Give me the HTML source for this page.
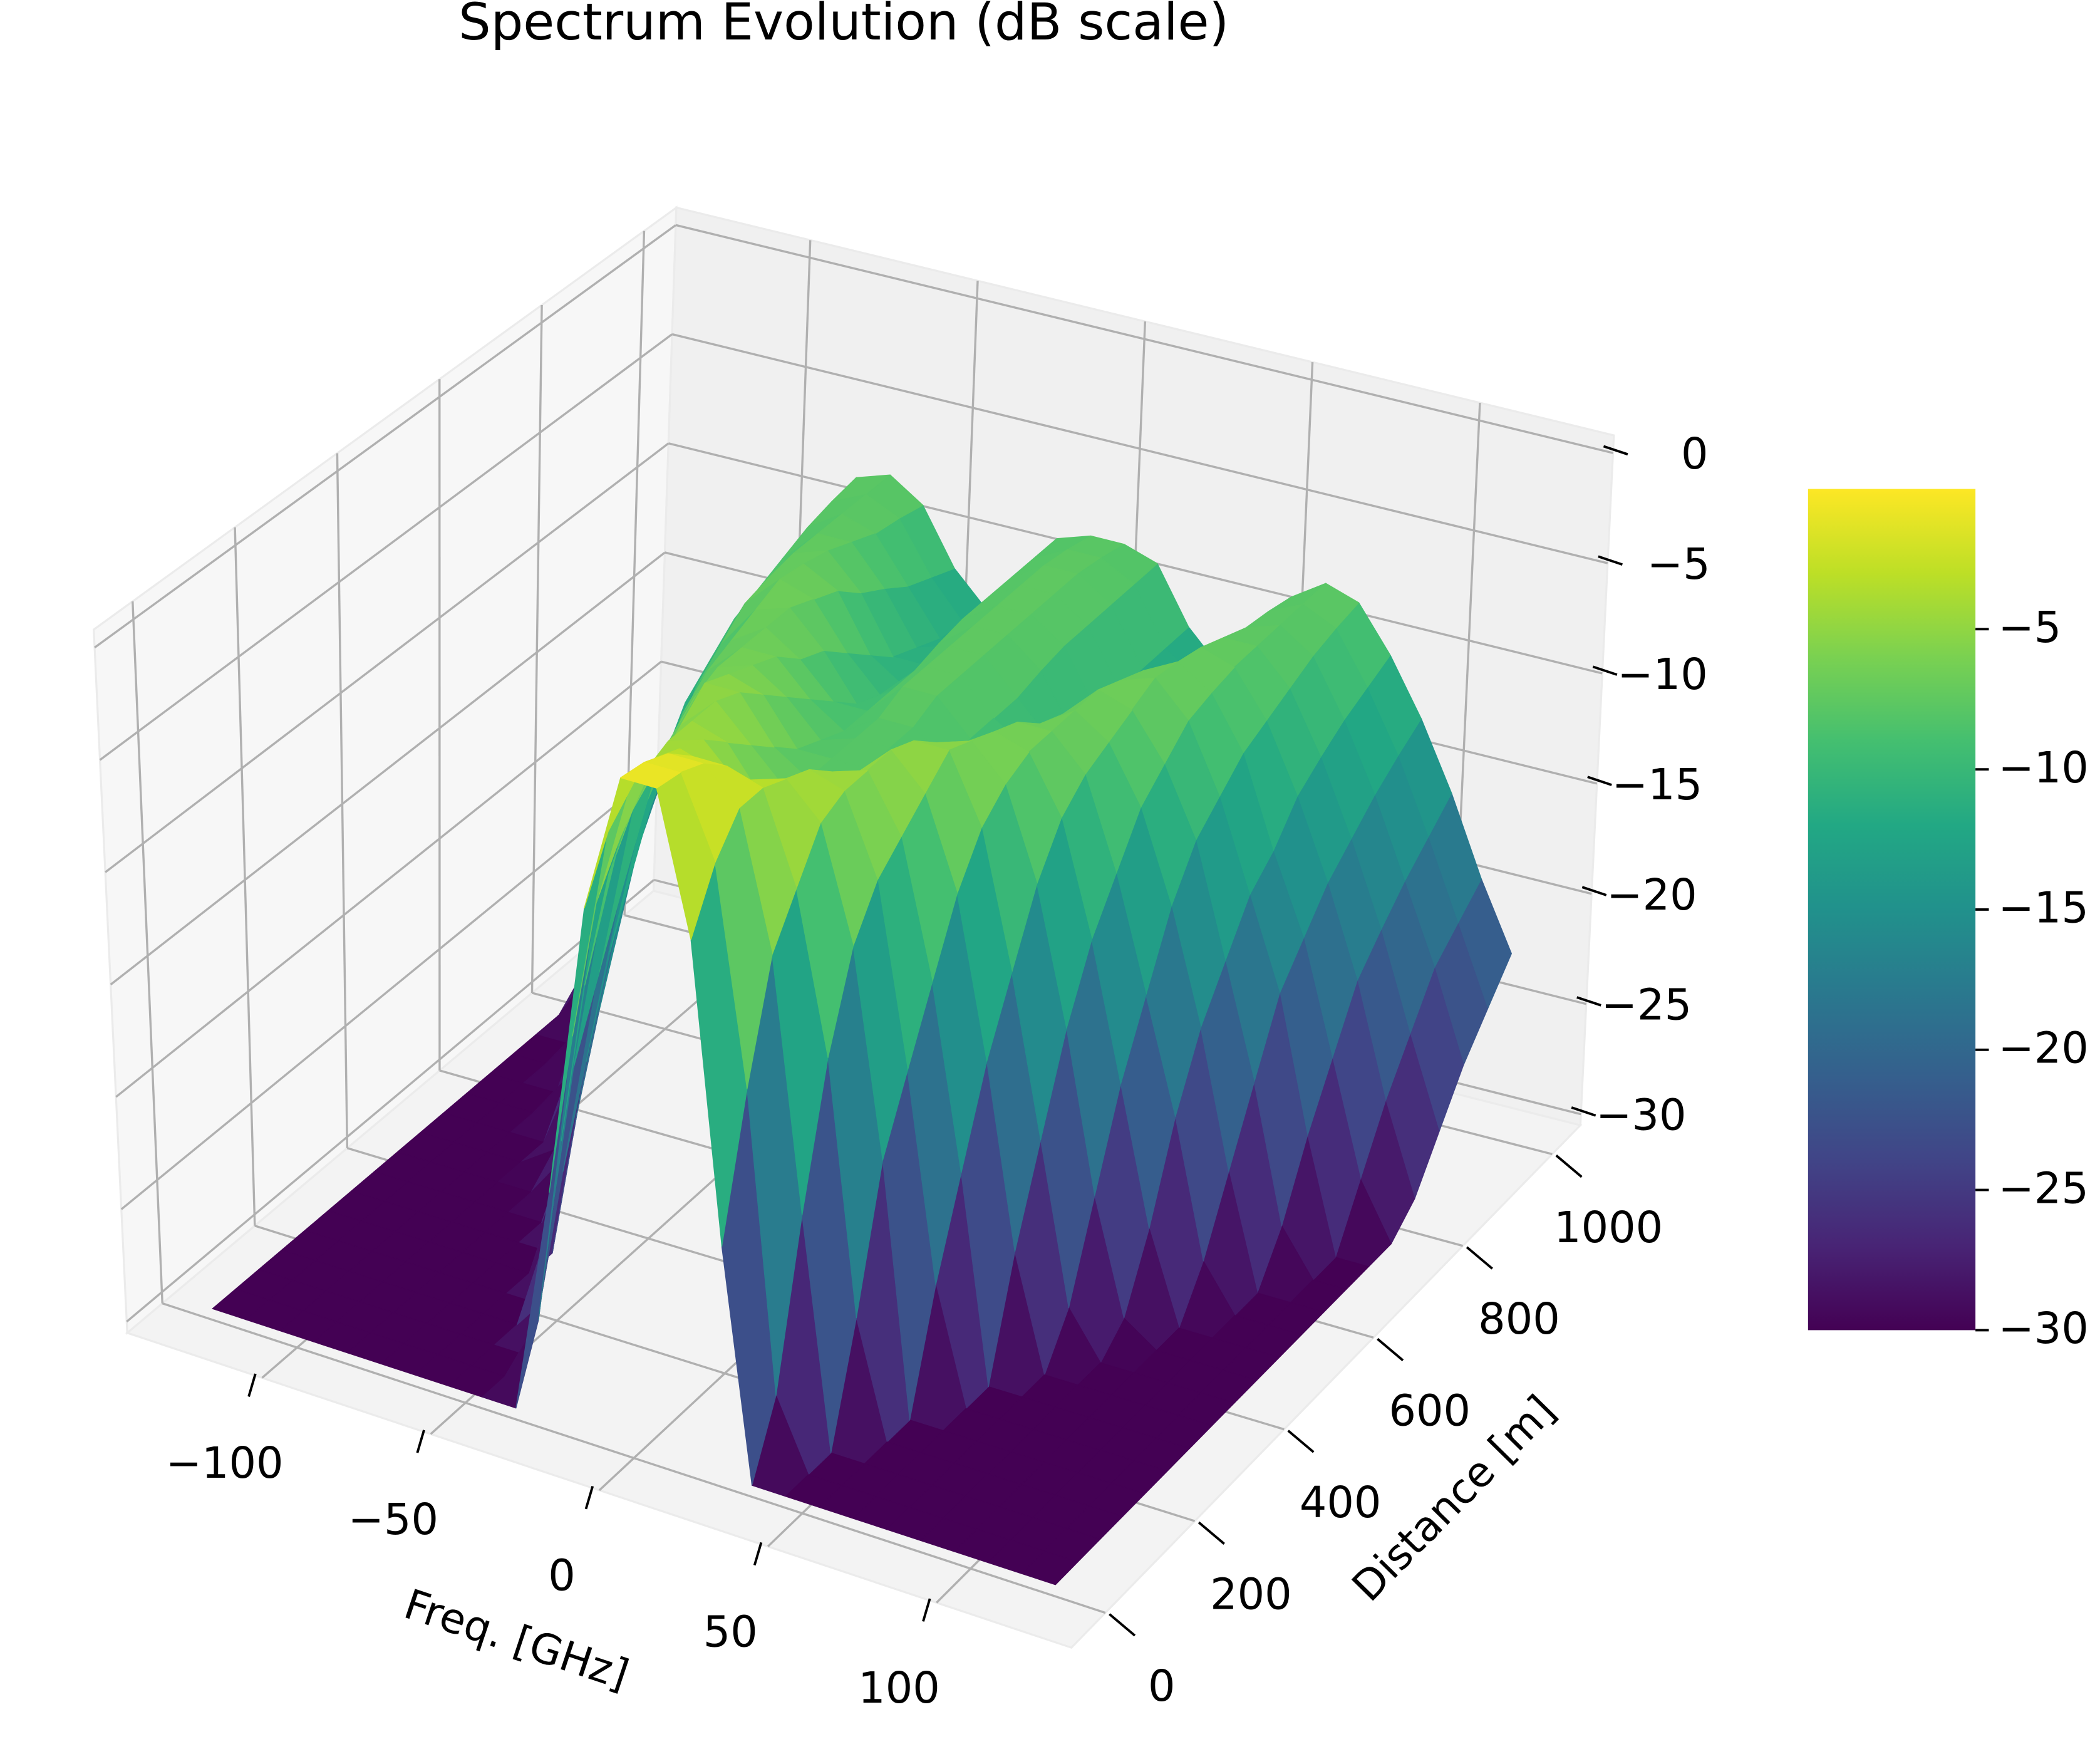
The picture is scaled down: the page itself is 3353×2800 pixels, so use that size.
<!DOCTYPE html>
<html><head><meta charset="utf-8"><style>
html,body{margin:0;padding:0;background:#fff;}
svg{display:block;}
text{font-family:"DejaVu Sans","Liberation Sans",sans-serif;fill:#000;}
</style></head><body>
<svg id="chart" width="3353" height="2800" viewBox="0 0 1568 1309.4" xmlns="http://www.w3.org/2000/svg">
<defs>
<linearGradient id="viridis" x1="0" y1="1" x2="0" y2="0">
<stop offset="0" stop-color="#440154"/><stop offset="0.1" stop-color="#482475"/><stop offset="0.2" stop-color="#414487"/><stop offset="0.3" stop-color="#355f8d"/><stop offset="0.4" stop-color="#2a788e"/><stop offset="0.5" stop-color="#21918c"/><stop offset="0.6" stop-color="#22a884"/><stop offset="0.7" stop-color="#44bf70"/><stop offset="0.8" stop-color="#7ad151"/><stop offset="0.9" stop-color="#bddf26"/><stop offset="1" stop-color="#fde725"/>
</linearGradient>
</defs>
<text x="630" y="19" font-size="38" text-anchor="middle" dominant-baseline="middle">Spectrum Evolution (dB scale)</text>
<g id="panes"></g>
<g id="grid"></g>
<g id="surface"></g>
<g id="ticks"></g>
<text x="385" y="1226" font-size="31" text-anchor="middle" dominant-baseline="middle" transform="rotate(18.4 385 1226)">Freq. [GHz]</text>
<text x="1087" y="1120" font-size="31" text-anchor="middle" dominant-baseline="middle" transform="rotate(-45.5 1087 1120)">Distance [m]</text>
<g id="colorbar">
<rect x="1350" y="365" width="125" height="628" fill="url(#viridis)"/>
</g>
</svg>
<script>
// ---- data ----
const freqs = [-125,-115,-105,-95,-85,-75,-65,-55,-45,-35,-25,-15,-5,5,15,25,35,45,55,65,75,85,95,105,115,125];
const dists = [0,50,100,150,200,250,300,350,400,450,500,550,600,650,700,750,800,850,900,950,1000];
const zRow0 = [-30,-30,-30,-30,-30,-30,-30,-30,-30,-30,-20,-7,-0.8,-0.8,-7,-20,-30,-30,-30,-30,-30,-30,-30,-30,-30,-30];
const zRow0h = [-30,-30,-30,-30,-30,-30,-30,-30,-30,-27,-14,-4.5,-1,-1,-4.5,-14,-27,-30,-30,-30,-30,-30,-30,-30,-30,-30];
const zRow1 = [-30,-30,-30,-30,-30,-30,-30,-30,-30,-20,-9,-3,-1.5,-1.5,-3,-9,-20,-30,-30,-30,-30,-30,-30,-30,-30,-30];
const zRow1h = [-30,-30,-30,-30,-30,-30,-30,-30,-25,-14,-7,-3,-2.5,-2.5,-3,-7,-14,-25,-30,-30,-30,-30,-30,-30,-30,-30];
const zRow2 = [-30,-30,-30,-30,-30,-30,-30,-30,-19,-10,-5,-3.5,-4,-4,-3.5,-5,-10,-19,-30,-30,-30,-30,-30,-30,-30,-30];
const zRow2h = [-30,-30,-30,-30,-30,-30,-30,-25,-16,-8,-4.5,-4,-5.5,-5.5,-4,-4.5,-8,-16,-25,-30,-30,-30,-30,-30,-30,-30];
const zRow3 = [-30,-30,-30,-30,-30,-30,-30,-21,-13,-7,-4.5,-5,-7,-7,-5,-4.5,-7,-13,-21,-30,-30,-30,-30,-30,-30,-30];
const zRow3h = [-30,-30,-30,-30,-30,-30,-25,-17,-10,-6,-4.5,-6,-7.5,-7.5,-6,-4.5,-6,-10,-17,-25,-30,-30,-30,-30,-30,-30];
const zRow4 = [-30,-30,-30,-30,-30,-28,-21,-14,-8,-5,-5,-7,-8,-8,-7,-5,-5,-8,-14,-21,-28,-30,-30,-30,-30,-30];
const zRow4h = [-30,-30,-30,-30,-29,-24,-17,-11,-7,-5.5,-6,-8,-8,-8,-8,-6,-5.5,-7,-11,-17,-24,-29,-30,-30,-30,-30];
const zRow5 = [-30,-30,-30,-30,-26,-20,-14,-9,-6.5,-6,-7,-8.5,-8,-8,-8.5,-7,-6,-6.5,-9,-14,-20,-26,-30,-30,-30,-30];
const zRow5h = [-30,-30,-30,-28,-22,-17,-12,-8,-6.5,-6.5,-8,-9,-8,-8,-9,-8,-6.5,-6.5,-8,-12,-17,-22,-28,-30,-30,-30];
const zRow6 = [-30,-30,-30,-25,-19,-14,-10,-7.5,-6.5,-7.5,-9,-9,-7.5,-7.5,-9,-9,-7.5,-6.5,-7.5,-10,-14,-19,-25,-30,-30,-30];
const zRow6h = [-30,-30,-28,-22,-17,-12,-9,-7,-6.5,-8,-10,-9,-7.5,-7.5,-9,-10,-8,-6.5,-7,-9,-12,-17,-22,-28,-30,-30];
const zRow7 = [-30,-30,-25,-19,-15,-11,-8,-6.5,-7,-9,-10.5,-9,-7.5,-7.5,-9,-10.5,-9,-7,-6.5,-8,-11,-15,-19,-25,-30,-30];
const zRow7h = [-30,-27.5,-22.5,-17.5,-14,-10,-7.7,-6.7,-7.5,-10,-11,-8.7,-7.5,-7.5,-8.7,-11,-10,-7.5,-6.7,-7.7,-10,-14,-17.5,-22.5,-27.5,-30];
const zRow8 = [-29,-25,-20,-16,-12.5,-9.5,-7.5,-7,-8.5,-11,-11,-8.5,-7.5,-7.5,-8.5,-11,-11,-8.5,-7,-7.5,-9.5,-12.5,-16,-20,-25,-29];
const zRow8h = [-27,-23,-18.7,-15,-11.7,-9,-7.5,-7.5,-9.2,-11.5,-11,-8.5,-7.5,-7.5,-8.5,-11,-11.5,-9.2,-7.5,-7.5,-9,-11.7,-15,-18.7,-23,-27];
const zRow9 = [-25,-21,-17.5,-14,-11,-8.5,-7.5,-8,-10,-12,-11,-8.5,-7.5,-7.5,-8.5,-11,-12,-10,-8,-7.5,-8.5,-11,-14,-17.5,-21,-25];
const zRow9h = [-23.5,-20,-16.5,-13.2,-10.5,-8.2,-7.5,-8.2,-10.5,-12.2,-11,-8.5,-7.7,-7.7,-8.5,-11,-12.2,-10.5,-8.2,-7.5,-8.2,-10.5,-13.2,-16.5,-20,-23.5];
const zRow10 = [-22,-19,-15.5,-12.5,-10,-8,-7.5,-8.5,-11,-12.5,-11,-8.5,-8,-8,-8.5,-11,-12.5,-11,-8.5,-7.5,-8,-10,-12.5,-15.5,-19,-22];
const zRows = [zRow0,zRow0h,zRow1,zRow1h,zRow2,zRow2h,zRow3,zRow3h,zRow4,zRow4h,zRow5,zRow5h,zRow6,zRow6h,zRow7,zRow7h,zRow8,zRow8h,zRow9,zRow9h,zRow10];
const freqTicks = [-100,-50,0,50,100];
const distTicks = [0,200,400,600,800,1000];
const zTicks = [0,-5,-10,-15,-20,-25,-30];
const cbarTicks = [-5,-10,-15,-20,-25,-30];

// ---- axis functions ----
const F0=-140,F1=140,D0=-76,D1=1063,Z0=-30.5,Z1=0.8,VMIN=-30,VMAX=0;
const U=f=>(f-F0)/(F1-F0), V=d=>(d-D0)/(D1-D0), W=z=>(z-Z0)/(Z1-Z0);
const B00=[95,995],B10=[800,1230],B11=[1180,840],B01=[488,665];
const T00=[70,470],T10=[830,690],T11=[1205,325],T01=[505,155];
function bil(a,b,c,d,u,v){
  return [0,1].map(i=>(a[i]*(1-u)+b[i]*u)*(1-v)+(d[i]*(1-u)+c[i]*u)*v);
}
function P(u,v,w){
  const b=bil(B00,B10,B11,B01,u,v), t=bil(T00,T10,T11,T01,u,v);
  return [b[0]+(t[0]-b[0])*w, b[1]+(t[1]-b[1])*w];
}
const pj=(f,d,z)=>P(U(f),V(d),W(z));
const stops=[[68,1,84],[72,36,117],[65,68,135],[53,95,141],[42,120,142],[33,145,140],[34,168,132],[68,191,112],[122,209,81],[189,223,38],[253,231,37]];
function viridis(z){
  let t=(z-VMIN)/(VMAX-VMIN); t=Math.max(0,Math.min(1,t))*10;
  const i=Math.min(9,Math.floor(t)), r=t-i, a=stops[i], b=stops[i+1];
  return 'rgb('+a.map((x,k)=>Math.round(x+(b[k]-x)*r)).join(',')+')';
}
const NS='http://www.w3.org/2000/svg';
const pts=a=>a.map(p=>p[0].toFixed(2)+','+p[1].toFixed(2)).join(' ');

// panes
const panes=document.getElementById('panes');
[[ 'floor-pane',[P(0,0,0),P(1,0,0),P(1,1,0),P(0,1,0)],'#f3f3f3'],
 [ 'left-pane',[P(0,0,0),P(0,1,0),P(0,1,1),P(0,0,1)],'#f7f7f7'],
 [ 'back-pane',[P(0,1,0),P(1,1,0),P(1,1,1),P(0,1,1)],'#f0f0f0']].forEach(([n,poly,c])=>{
  const e=document.createElementNS(NS,'polygon');
  
  
  e.setAttribute('points',pts(poly));e.setAttribute('fill',c);e.setAttribute('stroke','#ebebeb');e.setAttribute('stroke-width','1.5');
  panes.appendChild(e);
});

// grid
const grid=document.getElementById('grid');
function gline(a,b,name){
  const e=document.createElementNS(NS,'line');
  
  
  e.setAttribute('x1',a[0]);e.setAttribute('y1',a[1]);e.setAttribute('x2',b[0]);e.setAttribute('y2',b[1]);
  e.setAttribute('stroke','#b0b0b0');e.setAttribute('stroke-width','1.6');
  grid.appendChild(e);
}
zTicks.forEach(z=>{gline(P(0,0,W(z)),P(0,1,W(z)),'z-gridline');gline(P(0,1,W(z)),P(1,1,W(z)),'z-gridline');});
freqTicks.forEach(f=>{gline(P(U(f),1,0),P(U(f),1,1),'freq-gridline');gline(P(U(f),0,0),P(U(f),1,0),'freq-gridline');});
distTicks.forEach(d=>{gline(P(0,V(d),0),P(0,V(d),1),'dist-gridline');gline(P(0,V(d),0),P(1,V(d),0),'dist-gridline');});

// surface
const surf=document.getElementById('surface');
const quads=[];
for(let i=0;i<dists.length-1;i++){
  for(let j=0;j<freqs.length-1;j++){
    const c=[[j,i],[j+1,i],[j+1,i+1],[j,i+1]];
    const zs=c.map(([a,b])=>zRows[b][a]);
    const zm=zs.reduce((s,x)=>s+x,0)/4;
    const um=(U(freqs[j])+U(freqs[j+1]))/2, vm=(V(dists[i])+V(dists[i+1]))/2;
    const depth=0.433*um-0.75*vm+0.375*W(zm);
    quads.push({poly:c.map(([a,b],k)=>pj(freqs[a],dists[b],zs[k])),zm,depth});
  }
}
quads.sort((a,b)=>a.depth-b.depth);
quads.forEach(q=>{
  const e=document.createElementNS(NS,'polygon');
  
  
  const col=viridis(q.zm);
  e.setAttribute('points',pts(q.poly));e.setAttribute('fill',col);e.setAttribute('stroke',col);e.setAttribute('stroke-width','0.6');e.setAttribute('stroke-linejoin','round');
  surf.appendChild(e);
});

// ticks
const tk=document.getElementById('ticks');
function tline(x1,y1,x2,y2,name){
  const e=document.createElementNS(NS,'line');
  
  
  e.setAttribute('x1',x1);e.setAttribute('y1',y1);e.setAttribute('x2',x2);e.setAttribute('y2',y2);
  e.setAttribute('stroke','#000');e.setAttribute('stroke-width','1.8');
  tk.appendChild(e);
}
function ttext(x,y,s,name,anchor){
  const e=document.createElementNS(NS,'text');
  
  
  e.setAttribute('x',x);e.setAttribute('y',y);e.setAttribute('font-size','32');
  e.setAttribute('text-anchor',anchor||'middle');e.setAttribute('dominant-baseline','middle');
  e.textContent=s;tk.appendChild(e);
}
const lab=v=>(v<0?'\u2212':'')+Math.abs(v);
freqTicks.forEach(f=>{const p=P(U(f),0,0);tline(p[0]-5,p[1]-3,p[0]-10,p[1]+14,'freq-tick');ttext(p[0]-28,p[1]+66,lab(f),'freq-tick-label');});
distTicks.forEach(d=>{const p=P(1,V(d),0);tline(p[0]+3,p[1]+1,p[0]+22,p[1]+17,'dist-tick');ttext(p[0]+42,p[1]+57,lab(d),'dist-tick-label');});
zTicks.forEach(z=>{const p=P(1,1,W(z));const s=lab(z);tline(p[0]-7,p[1]-5,p[0]+11,p[1]+1,'z-tick');ttext(p[0]+45+8*(3-s.length),p[1]+3,s,'z-tick-label');});
const cb=document.getElementById('colorbar');
cbarTicks.forEach(v=>{
  const y=365+(VMAX-v)/(VMAX-VMIN)*628;
  const l=document.createElementNS(NS,'line');
  
  
  l.setAttribute('x1',1475);l.setAttribute('x2',1485);l.setAttribute('y1',y);l.setAttribute('y2',y);l.setAttribute('stroke','#000');l.setAttribute('stroke-width','1.8');
  cb.appendChild(l);
  const t=document.createElementNS(NS,'text');
  
  
  t.setAttribute('x',1492);t.setAttribute('y',y+1);t.setAttribute('font-size','32');t.setAttribute('dominant-baseline','middle');
  t.textContent=lab(v);cb.appendChild(t);
});
</script>
</body></html>
